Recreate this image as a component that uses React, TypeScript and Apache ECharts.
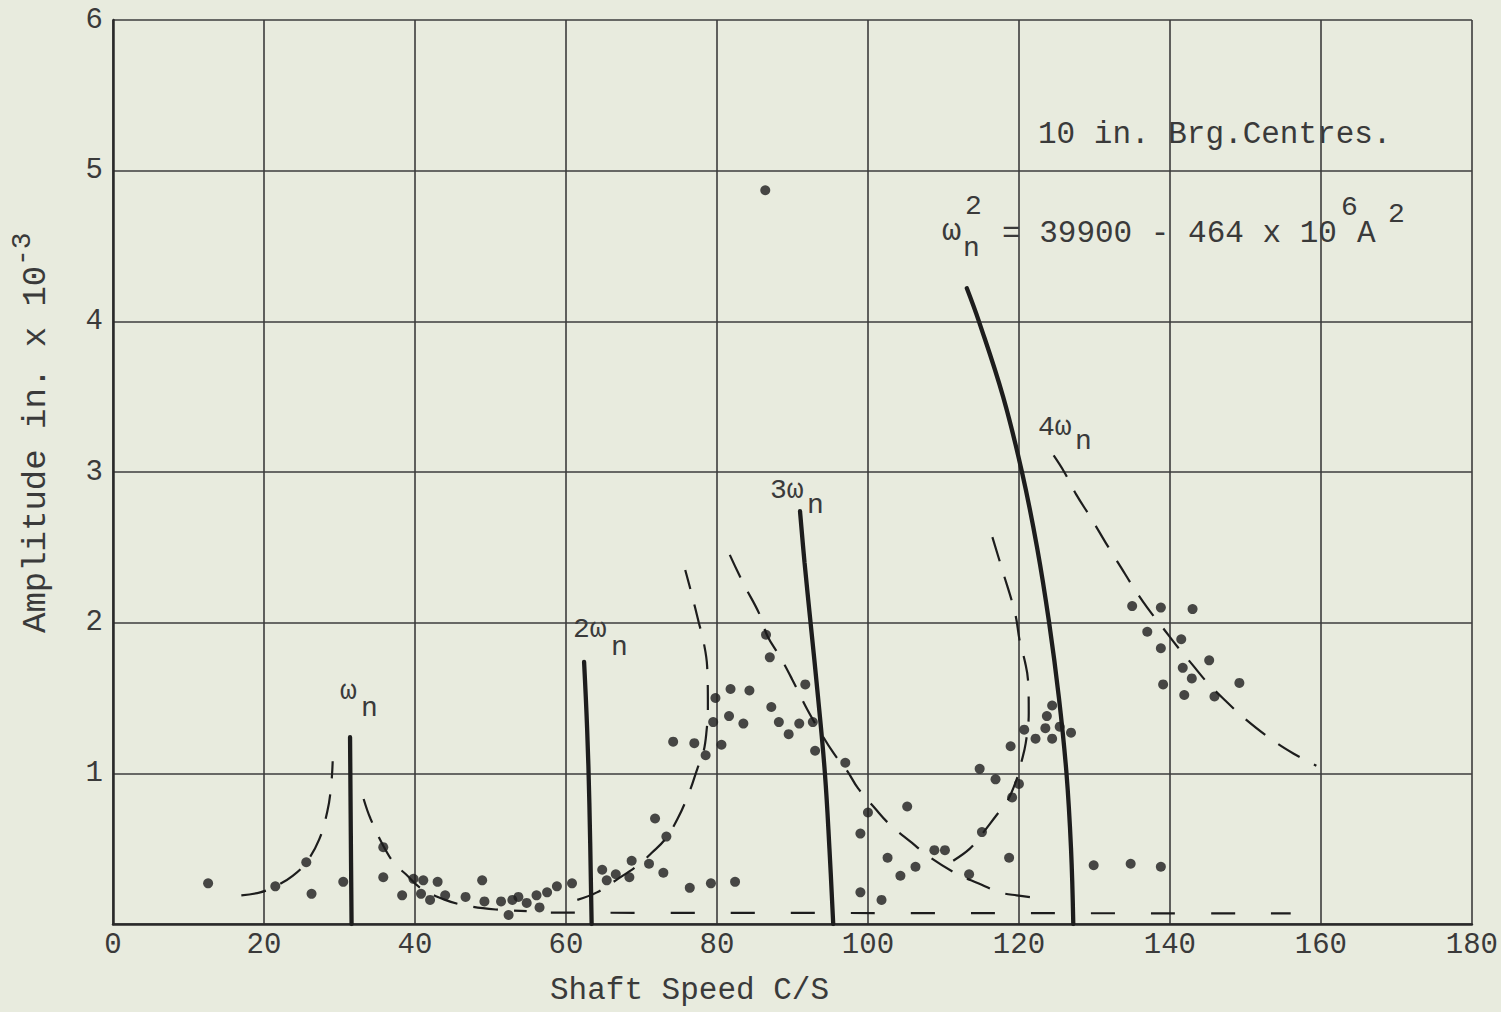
import React, { useEffect, useRef } from "react";
import * as echarts from "echarts";

// ---- axes ----
const X_MIN = 0;
const X_MAX = 180;
const X_STEP = 20;
const Y_MIN = 0;
const Y_MAX = 6;
const Y_STEP = 1;

// ---- texts ----
const xTitle = "Shaft Speed C/S";
const yTitle = "Amplitude in. x 10";
const yTitleSup = "-3";
const noteText = "10 in. Brg.Centres.";
const formulaBody = "= 39900 - 464 x 10";

// ---- measured amplitudes (shaft speed c/s, amplitude in. x 1e-3) ----
const measured: number[][] = [
  [12.6, 0.27], [21.5, 0.25], [25.6, 0.41], [26.3, 0.2], [30.5, 0.28],
  [35.8, 0.51], [35.8, 0.31], [38.3, 0.19], [39.8, 0.3], [41.1, 0.29],
  [43.0, 0.28], [42.0, 0.16], [40.8, 0.2], [44.0, 0.19],
  [46.7, 0.18], [48.9, 0.29], [49.2, 0.15], [51.4, 0.15], [52.4, 0.06],
  [52.9, 0.16], [53.7, 0.18], [54.8, 0.14], [56.1, 0.19], [56.5, 0.11],
  [57.5, 0.21], [58.8, 0.25], [60.8, 0.27], [64.8, 0.36], [65.4, 0.29],
  [66.6, 0.33], [68.4, 0.31], [68.7, 0.42], [71.0, 0.4], [72.9, 0.34],
  [73.3, 0.58], [71.8, 0.7], [76.4, 0.24], [79.2, 0.27], [82.4, 0.28],
  [78.5, 1.12],
  [86.5, 1.92], [87.0, 1.77], [91.7, 1.59], [81.8, 1.56], [84.3, 1.55],
  [79.8, 1.5], [87.2, 1.44], [81.6, 1.38], [83.5, 1.33], [88.2, 1.34],
  [90.9, 1.33], [92.7, 1.34], [79.5, 1.34], [89.5, 1.26], [80.6, 1.19],
  [77.0, 1.2], [74.2, 1.21], [93.0, 1.15], [97.0, 1.07], [100.0, 0.74],
  [99.0, 0.6], [102.6, 0.44], [99.0, 0.21], [101.8, 0.16],
  [86.4, 4.87],
  [105.2, 0.78], [104.3, 0.32], [106.3, 0.38], [108.8, 0.49], [110.2, 0.49],
  [113.4, 0.33], [114.8, 1.03], [116.9, 0.96], [115.1, 0.61], [118.7, 0.44],
  [119.1, 0.84], [120.0, 0.93], [118.9, 1.18], [120.7, 1.29], [122.2, 1.23],
  [123.5, 1.3], [123.7, 1.38], [124.4, 1.45], [124.4, 1.23], [125.4, 1.31],
  [126.9, 1.27],
  [135.0, 2.11], [138.8, 2.1], [143.0, 2.09], [137.0, 1.94], [138.8, 1.83],
  [141.5, 1.89], [145.2, 1.75], [141.7, 1.7], [142.9, 1.63], [139.1, 1.59],
  [141.9, 1.52], [145.9, 1.51], [149.2, 1.6], [129.9, 0.39], [134.8, 0.4],
  [138.8, 0.38],
];

// ---- natural-frequency curves (solid) ----
const omega1Curve: number[][] = [[31.6, 0], [31.5, 0.6], [31.4, 1.24]];
const omega2Curve: number[][] = [[63.4, 0], [63.1, 0.8], [62.8, 1.3], [62.4, 1.74]];
const omega3Curve: number[][] = [
  [95.4, 0], [94.9, 0.5], [94.3, 1], [93.4, 1.5], [92.4, 2], [91.6, 2.4], [91.0, 2.74],
];
const omega4Curve: number[][] = [
  [127.2, 0], [126.9, 0.5], [126.3, 1], [125.3, 1.5], [124.0, 2], [122.4, 2.5],
  [120.4, 3], [117.9, 3.5], [114.7, 4], [113.1, 4.22],
];

// ---- response curves (dashed) ----
const resp1Left: number[][] = [
  [17.0, 0.19], [19.5, 0.21], [21.5, 0.25], [23.8, 0.32], [25.6, 0.41],
  [27.3, 0.56], [28.4, 0.75], [28.9, 0.92], [29.1, 1.08],
];
const resp1Right: number[][] = [
  [33.2, 0.83], [34.1, 0.7], [35.8, 0.52], [37.3, 0.4], [38.8, 0.33],
  [40.7, 0.24], [44.0, 0.16], [47.0, 0.12], [51.0, 0.095], [54.8, 0.085],
];
const resp2Left: number[][] = [
  [61.5, 0.16], [64.1, 0.21], [66.6, 0.29], [69.8, 0.4], [71.3, 0.47],
  [73.1, 0.56], [74.8, 0.7], [76.3, 0.87], [77.4, 1.03], [78.2, 1.14],
  [78.6, 1.27], [78.8, 1.44], [78.7, 1.71], [78.2, 1.88], [77.6, 2.0],
  [76.6, 2.2], [75.8, 2.35],
];
const resp2Right: number[][] = [
  [81.7, 2.45], [83.5, 2.26], [85.6, 2.06], [86.7, 1.91], [88.4, 1.77],
  [90.0, 1.62], [92.0, 1.42], [93.5, 1.29], [95.5, 1.13], [97.2, 1.02],
  [98.7, 0.9], [100.9, 0.77], [102.9, 0.66], [105.8, 0.54], [108.0, 0.45],
  [111.5, 0.34], [114.6, 0.27], [117.5, 0.21], [119.7, 0.19], [123.0, 0.17],
];
const resp3Left: number[][] = [
  [111.3, 0.42], [113.5, 0.5], [115.0, 0.59], [117.0, 0.72], [118.4, 0.81],
  [119.7, 0.96], [120.3, 1.07], [120.9, 1.2], [121.3, 1.4], [121.2, 1.62],
  [120.8, 1.74], [120.1, 1.88], [119.5, 2.06], [117.8, 2.35], [116.1, 2.63],
];
const resp3Right: number[][] = [
  [124.6, 3.11], [126.0, 3.0], [127.6, 2.85], [129.6, 2.69], [131.5, 2.53],
  [133.6, 2.36], [135.1, 2.24], [137.0, 2.1], [139.0, 1.97], [141.0, 1.84],
  [143.0, 1.72], [145.0, 1.6], [147.4, 1.48], [150.0, 1.36], [153.6, 1.22],
  [156.4, 1.13], [159.4, 1.05],
];
const baseDash: number[][] = [[58.0, 0.075], [156.0, 0.07]];

const INK = "#1d1d1d";
const TEXT = "#3a3a3a";
const PAPER = "#e8ebde";
const MONO = '"Liberation Mono", "DejaVu Sans Mono", monospace';

function txt(text: string, x: number, y: number, size: number, extra: any = {}) {
  return {
    type: "text",
    x,
    y,
    silent: true,
    ...extra,
    style: {
      text,
      font: `${size}px ${MONO}`,
      fill: TEXT,
      textAlign: "left",
      textVerticalAlign: "middle",
      align: "left",
      verticalAlign: "middle",
    },
  };
}

export default function App() {
  const ref = useRef<HTMLDivElement>(null);

  useEffect(() => {
    if (!ref.current) return;
    const chart = echarts.init(ref.current, undefined, { renderer: "svg" });

    const solid = (name: string, data: number[][]) => ({
      name,
      type: "line",
      data,
      smooth: 0.4,
      symbol: "none",
      lineStyle: { color: INK, width: 4.3, cap: "round" },
      z: 3,
    });
    const dashed = (name: string, data: number[][], dash: number[] = [25, 16]) => ({
      name,
      type: "line",
      data,
      smooth: 0.4,
      symbol: "none",
      lineStyle: { color: INK, width: 2.2, type: dash },
      z: 3,
    });

    const option: any = {
      animation: false,
      backgroundColor: PAPER,
      grid: { left: 113, right: 21, top: 20, bottom: 88 },
      xAxis: {
        type: "value",
        min: X_MIN,
        max: X_MAX,
        interval: X_STEP,
        axisLine: { show: true, lineStyle: { color: "#2a2a2a", width: 2.5 } },
        axisTick: { show: false },
        axisLabel: { color: TEXT, fontFamily: MONO, fontSize: 29, margin: 7 },
        splitLine: { show: true, lineStyle: { color: "#3c3c3c", width: 1.6 } },
      },
      yAxis: {
        type: "value",
        min: Y_MIN,
        max: Y_MAX,
        interval: Y_STEP,
        axisLine: { show: true, lineStyle: { color: "#2a2a2a", width: 2.5 } },
        axisTick: { show: false },
        axisLabel: {
          color: TEXT,
          fontFamily: MONO,
          fontSize: 29,
          margin: 10,
          showMinLabel: false,
        },
        splitLine: { show: true, lineStyle: { color: "#3c3c3c", width: 1.6 } },
      },
      series: [
        solid("ωn", omega1Curve),
        solid("2ωn", omega2Curve),
        solid("3ωn", omega3Curve),
        solid("4ωn", omega4Curve),
        dashed("resp1L", resp1Left),
        dashed("resp1R", resp1Right),
        dashed("resp2L", resp2Left),
        dashed("resp2R", resp2Right),
        dashed("resp3L", resp3Left),
        dashed("resp3R", resp3Right),
        dashed("base", baseDash, [24, 36]),
        {
          name: "measured",
          type: "scatter",
          data: measured,
          symbol: "circle",
          symbolSize: 10,
          itemStyle: { color: INK },
          z: 4,
        },
      ],
      graphic: [
        txt(xTitle, 550, 990, 31),
        txt(yTitle, 36, 633, 34, { rotation: Math.PI / 2 }),
        txt(yTitleSup, 22, 266, 28, { rotation: Math.PI / 2 }),
        txt(noteText, 1038, 134, 31),
        // formula
        txt("ω", 942, 231, 32),
        txt("2", 965, 206, 28),
        txt("n", 963, 248, 28),
        txt(formulaBody, 1002, 233, 31),
        txt("6", 1341, 207, 28),
        txt("A", 1357, 233, 31),
        txt("2", 1388, 214, 28),
        // curve labels
        txt("ω", 340, 691, 28),
        txt("n", 361, 708, 28),
        txt("2ω", 573, 629, 28),
        txt("n", 611, 647, 28),
        txt("3ω", 770, 490, 28),
        txt("n", 807, 505, 28),
        txt("4ω", 1038, 427, 28),
        txt("n", 1075, 441, 28),
      ],
    };

    chart.setOption(option);
    return () => chart.dispose();
  }, []);

  return (
    <div
      ref={ref}
      style={{ position: "fixed", left: 0, top: 0, width: 1501, height: 1012, background: PAPER }}
    />
  );
}
